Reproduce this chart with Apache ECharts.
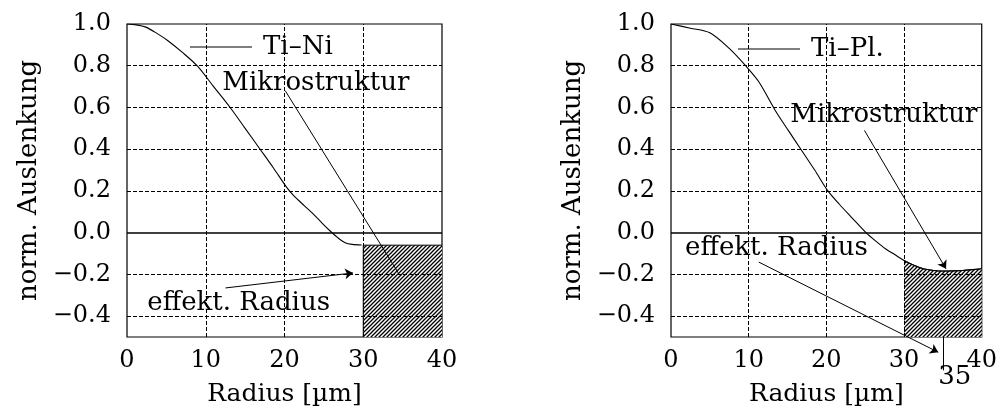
<!DOCTYPE html>
<html><head><meta charset="utf-8">
<script src="https://cdn.jsdelivr.net/npm/echarts@6/dist/echarts.min.js"></script>
<style>html,body{margin:0;padding:0;background:#fff}#c{width:1000px;height:412px}</style>
</head><body><div id="c"></div>
<script>
// ---------- data ----------
const xTicks = [0, 10, 20, 30, 40];
const yLabels = [-0.4, -0.2, 0.0, 0.2, 0.4, 0.6, 0.8, 1.0];
const yGridDashed = [-0.4, -0.2, 0.2, 0.4, 0.6, 0.8];
const xGridDashed = [10, 20, 30];

const tiNiRadius = [0, 1.2, 2.4, 3.8, 5.2, 7.0, 8.9, 11.0, 13.1, 15.0, 16.9, 18.6, 20.3, 21.2, 22.5, 23.7, 24.8, 25.8, 26.8, 27.7, 28.6, 29.8];
const tiNiDefl   = [1.0, 0.996, 0.985, 0.955, 0.92, 0.865, 0.80, 0.70, 0.60, 0.50, 0.40, 0.31, 0.216, 0.176, 0.13, 0.088, 0.045, 0.008, -0.025, -0.048, -0.056, -0.059];
const tiNiHatchX = [30, 30, 40];
const tiNiHatchY = [-0.5, -0.06, -0.06];

const tiPlRadius = [0, 2.5, 5.0, 7.5, 9.6, 11.3, 13.4, 15.1, 16.8, 18.5, 20.2, 21.7, 23.2, 25.1, 26.4, 27.6, 28.8, 30.0, 31.2, 32.5, 33.8, 35.0, 36.3, 37.6, 38.8, 40.0];
const tiPlDefl   = [1.0, 0.98, 0.958, 0.883, 0.80, 0.723, 0.587, 0.49, 0.395, 0.30, 0.20, 0.135, 0.075, 0.0, -0.042, -0.077, -0.105, -0.133, -0.155, -0.173, -0.181, -0.184, -0.183, -0.181, -0.177, -0.173];
const tiPlHatchStart = 30;

// annotations (data coordinates)
const leftTexts  = [[12.1, 0.714, 'Mikrostruktur'], [2.58, -0.337, 'effekt. Radius']];
const leftArrowsPlain = [[[20.1, 0.68], [34.45, -0.193]]];
const leftArrowsHead  = [[[12.5, -0.265], [28.7, -0.193]]];
const rightTexts = [[15.36, 0.563, 'Mikrostruktur'], [1.81, -0.077, 'effekt. Radius'], [34.4, -0.693, '35']];
const rightArrowsHead = [[[24.9, 0.49], [35.4, -0.173]], [[11.3, -0.141], [34.4, -0.573]]];
const rightMarkPlain  = [[[35, -0.5], [35, -0.66]]];

// ---------- helpers ----------
const FONT = 'DejaVu Serif';
const pair = (xs, ys) => xs.map((x, i) => [x, ys[i]]);
const tiNi = pair(tiNiRadius, tiNiDefl);
const tiPl = pair(tiPlRadius, tiPlDefl);
const tiPlHatch = tiPl.filter(p => p[0] >= tiPlHatchStart);

const cv = document.createElement('canvas');
cv.width = 4; cv.height = 4;
const cx = cv.getContext('2d');
cx.fillStyle = '#fff'; cx.fillRect(0, 0, 4, 4);
cx.strokeStyle = '#000'; cx.lineWidth = 1.3;
cx.beginPath();
cx.moveTo(-1, 5); cx.lineTo(5, -1);
cx.moveTo(-1, 1); cx.lineTo(1, -1);
cx.moveTo(3, 5); cx.lineTo(5, 3);
cx.stroke();
const hatch = { image: cv, repeat: 'repeat' };

const fmtY = v => {
  const r = Math.round(v * 10);
  if (r % 2 !== 0) return '';
  const s = (r / 10).toFixed(1);
  return s.replace('-', '\u2212');
};

function makeAxes(i) {
  const x = {
    type: 'value', gridIndex: i, min: 0, max: 40, interval: 10,
    name: 'Radius [µm]', nameLocation: 'middle', nameGap: 45,
    nameTextStyle: { fontFamily: FONT, fontSize: 25, color: '#000' },
    axisLine: { show: false }, axisTick: { show: false }, splitLine: { show: false },
    axisLabel: { margin: 12, fontFamily: FONT, fontSize: 24, color: '#000' }
  };
  const y = {
    type: 'value', gridIndex: i, min: -0.5, max: 1.0, interval: 0.1,
    name: 'norm. Auslenkung', nameLocation: 'middle', nameGap: 85, nameRotate: 90,
    nameTextStyle: { fontFamily: FONT, fontSize: 26, color: '#000' },
    axisLine: { show: false }, axisTick: { show: false }, splitLine: { show: false },
    axisLabel: { margin: 16, fontFamily: FONT, fontSize: 24, color: '#000', formatter: fmtY }
  };
  return [x, y];
}

function gridSeries(i) {
  return {
    type: 'line', xAxisIndex: i, yAxisIndex: i, data: [], silent: true,
    markLine: {
      silent: true, symbol: 'none', label: { show: false }, animation: false,
      lineStyle: { color: '#000', width: 1, type: [4, 2] },
      data: yGridDashed.map(v => ({ yAxis: v }))
        .concat(xGridDashed.map(v => ({ xAxis: v })))
        .concat([{ yAxis: 0, lineStyle: { type: 'solid', width: 1.5 } }])
    }
  };
}

function textSeries(i, arr) {
  return {
    type: 'custom', xAxisIndex: i, yAxisIndex: i, clip: false, silent: true, z: 5,
    data: arr.map(a => [a[0], a[1]]),
    renderItem: (params, api) => {
      const p = api.coord([api.value(0), api.value(1)]);
      return {
        type: 'text', x: p[0], y: p[1],
        style: { text: arr[params.dataIndex][2], fill: '#000',
          font: '26px "DejaVu Serif"', align: 'left', verticalAlign: 'middle' }
      };
    }
  };
}

function linesSeries(i, arr, head) {
  return {
    type: 'lines', coordinateSystem: 'cartesian2d', xAxisIndex: i, yAxisIndex: i,
    clip: false, silent: true, z: 6,
    symbol: head ? ['none', 'arrow'] : 'none', symbolSize: 8,
    lineStyle: { color: '#000', width: 1, opacity: 1 },
    data: arr.map(c => ({ coords: c }))
  };
}

const axL = makeAxes(0), axR = makeAxes(1);

const option = {
  animation: false,
  backgroundColor: '#fff',
  grid: [
    { left: 127, top: 24, width: 315, height: 313, show: true, borderColor: '#000', borderWidth: 1.2, backgroundColor: 'transparent' },
    { left: 671, top: 24, width: 315, height: 313, show: true, borderColor: '#000', borderWidth: 1.2, backgroundColor: 'transparent' }
  ],
  xAxis: [axL[0], axR[0]],
  yAxis: [axL[1], axR[1]],
  legend: [
    { data: ['Ti–Ni'], left: 190, top: 34, padding: 0, itemWidth: 62, itemHeight: 1, itemGap: 0,
      icon: 'rect', textStyle: { fontFamily: FONT, fontSize: 26, color: '#000', padding: [0, 0, 0, 6] } },
    { data: ['Ti–Pl.'], left: 738, top: 36, padding: 0, itemWidth: 62, itemHeight: 1, itemGap: 0,
      icon: 'rect', textStyle: { fontFamily: FONT, fontSize: 26, color: '#000', padding: [0, 0, 0, 6] } }
  ],
  series: [
    gridSeries(0), gridSeries(1),
    { name: 'hatchNi', type: 'line', xAxisIndex: 0, yAxisIndex: 0, symbol: 'none',
      data: pair(tiNiHatchX, tiNiHatchY), lineStyle: { color: '#000', width: 1 },
      areaStyle: { color: hatch, origin: 'start', opacity: 1 }, z: 3 },
    { name: 'hatchPl', type: 'line', xAxisIndex: 1, yAxisIndex: 1, symbol: 'none', smooth: 0.3,
      data: tiPlHatch, lineStyle: { color: '#000', width: 1 },
      areaStyle: { color: hatch, origin: 'start', opacity: 1 }, z: 3 },
    { name: 'Ti–Ni', type: 'line', xAxisIndex: 0, yAxisIndex: 0, symbol: 'none', smooth: 0.3,
      data: tiNi, color: '#000', lineStyle: { color: '#000', width: 1.1 }, z: 4 },
    { name: 'Ti–Pl.', type: 'line', xAxisIndex: 1, yAxisIndex: 1, symbol: 'none', smooth: 0.3,
      data: tiPl, color: '#000', lineStyle: { color: '#000', width: 1.1 }, z: 4 },
    textSeries(0, leftTexts),
    textSeries(1, rightTexts),
    linesSeries(0, leftArrowsPlain, false),
    linesSeries(0, leftArrowsHead, true),
    linesSeries(1, rightArrowsHead, true),
    linesSeries(1, rightMarkPlain, false)
  ]
};

const chart = echarts.init(document.getElementById('c'), null, { renderer: 'canvas' });
chart.setOption(option);
</script></body></html>
